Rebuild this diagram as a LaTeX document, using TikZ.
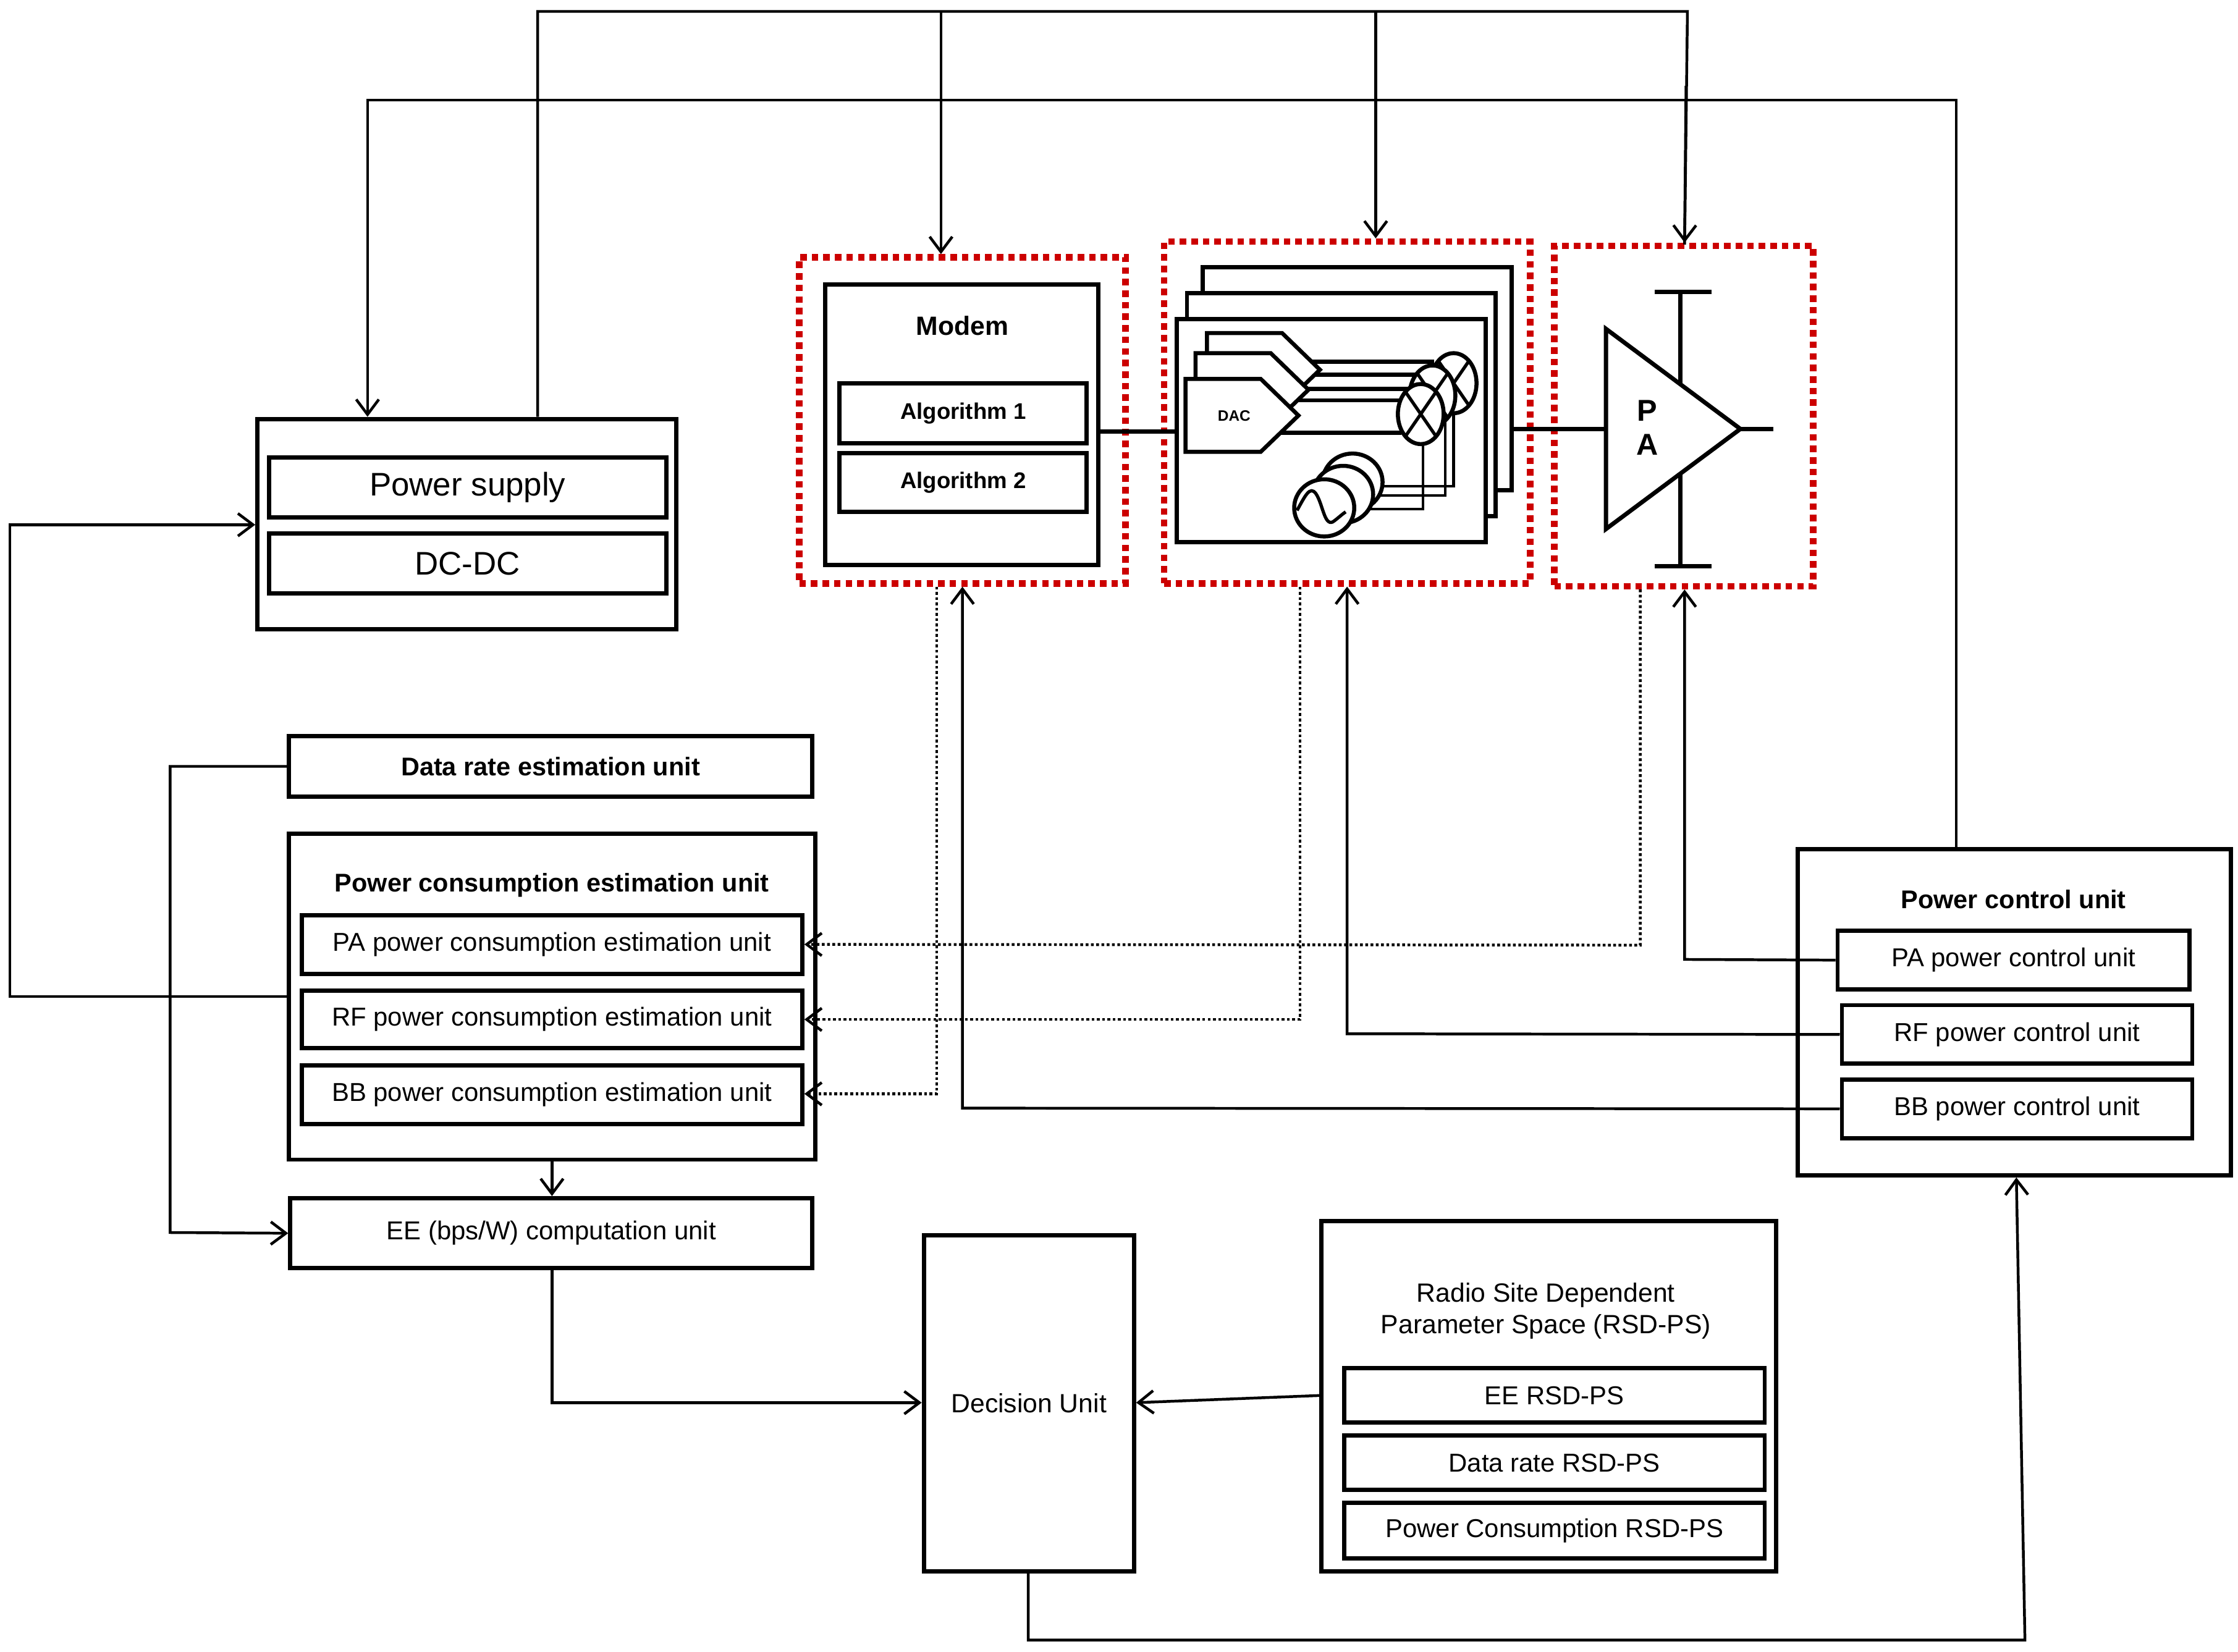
\documentclass[tikz,border=0pt]{standalone}
\usepackage{fontspec}
\setmainfont{Liberation Sans}
\usetikzlibrary{arrows.meta,calc}
\newcommand{\bx}[7]{\node[#6,minimum width={(#4-#2)*0.02cm},minimum height={(#5-#3)*0.02cm}] (#1) at ({(#2+#4)/2},{(#3+#5)/2}) {#7};}
\begin{document}
\begin{tikzpicture}[x=0.02cm,y=-0.02cm,
 box/.style={draw,line width=1.7pt,inner sep=0pt,font=\fontsize{10.3}{12}\selectfont},
 red/.style={draw=red!80!black,dotted,line width=2.6pt,inner sep=0pt},
 ttl/.style={font=\bfseries\fontsize{10.2}{12}\selectfont},
 con/.style={line width=1.1pt},
 arr/.style={con,-{Straight Barb[length=6pt,width=9pt,line width=1.1pt]}},
 dot/.style={arr,densely dotted}]
\useasboundingbox (0,0) rectangle (1565,1155);
% power supply
\bx{ps}{180}{293}{473}{440}{box}{}
\bx{psu}{188}{320}{466}{362}{box,font=\fontsize{13}{15}\selectfont}{Power supply}
\bx{dcdc}{188}{373}{466}{415}{box,font=\fontsize{13}{15}\selectfont}{DC-DC}
% modem
\bx{mr}{559}{180}{787}{408}{red}{}
\bx{modem}{577}{199}{768}{395}{box}{}
\node[font=\bfseries\fontsize{10.5}{12}\selectfont] at (673,228) {Modem};
\bx{alg1}{587}{268}{760}{310}{box,font=\bfseries\fontsize{9}{11}\selectfont}{Algorithm 1}
\bx{alg2}{587}{317}{760}{358}{box,font=\bfseries\fontsize{9}{11}\selectfont}{Algorithm 2}
% RF
\bx{rr}{814}{169}{1070}{408}{red}{}
\draw[line width=1.7pt,fill=white] (841,187) rectangle (1057,343);
\draw[line width=1.7pt,fill=white] (830,205) rectangle (1046,361);
\bx{rf}{823}{223}{1039}{379}{box,fill=white}{}
% DAC outputs
\draw[line width=1.6pt] (905,253) -- (1003,253) (905,262) -- (992,262)
  (900,272) -- (985,272) (895,280) -- (980,280) (895,302.6) -- (980,302.6);
\foreach \dx/\dy in {15/-32,7/-18}{
 \draw[line width=1.6pt,fill=white] (829+\dx,316+\dy) -- (829+\dx,265+\dy) -- (881.6+\dx,265+\dy) -- (908+\dx,290.6+\dy) -- (881.6+\dx,316+\dy);}
\draw[line width=1.6pt,fill=white] (829,265) -- (881.6,265) -- (908,290.6) -- (881.6,316) -- (829,316) -- cycle;
\node[font=\bfseries\fontsize{6}{7}\selectfont] at (863,291) {DAC};
% LO lines
\draw[line width=1.1pt] (995,300) -- (995,356) -- (945,356);
\draw[line width=1.1pt] (1010.7,290) -- (1010.7,346.5) -- (958,346.5);
\draw[line width=1.1pt] (1016.5,285) -- (1016.5,340) -- (966,340);
% mixers
\foreach \cx/\cy in {1016.5/268,1001.7/276.6,993.5/289.6}{
 \draw[line width=1.6pt,fill=white] (\cx,\cy) ellipse (16 and 21);
 \draw[line width=1.3pt] (\cx-11,\cy-16) -- (\cx+11,\cy+16) (\cx-11,\cy+16) -- (\cx+11,\cy-16);}
% oscillators
\foreach \cx/\cy in {945.8/337.2,939.2/345.8,926/355.2}{
 \draw[line width=1.6pt,fill=white] (\cx,\cy) ellipse (21 and 20);}
\draw[line width=1.3pt] (907,357) .. controls (913,346) and (916,340) .. (920,345) .. controls (925,352) and (926,368) .. (932,365) .. controls (935,363) and (938,360) .. (941,358);
% PA
\bx{pr}{1087}{172}{1268}{410}{red}{}
\draw[line width=1.7pt] (1175,204) -- (1175,396) (1157,204) -- (1197,204) (1157,396) -- (1197,396);
\draw[line width=1.7pt,fill=white] (1123,230) -- (1217,300) -- (1123,370) -- cycle;
\coordinate (pain) at (1123,300);
\coordinate (paout) at (1240,300);
\draw[line width=1.7pt] (1217,300) -- (paout);
\node[font=\bfseries\fontsize{12}{14}\selectfont] at (1152,287) {P};
\node[font=\bfseries\fontsize{12}{14}\selectfont] at (1152,311) {A};
\draw[line width=1.7pt] (modem.east |- 0,302) -- (rf.west |- 0,302);
\draw[line width=1.7pt] (1057,300) -- (pain);
% top lines
\draw[con] (ps.north -| 376,0) -- (376,8) -- (1180,8) -- (1178,171);
\draw[arr] (1179,60) -- (pr.north -| 1178,0);
\draw[arr] (658,8) -- (mr.north -| 658,0);
\draw[arr] (962,8) -- (rr.north -| 962,0);
\bx{pcu}{1257}{594}{1560}{822}{box}{}
\draw[arr] (pcu.north -| 1368,0) -- (1368,70) -- (257,70) -- (ps.north -| 257,0);
% estimation
\bx{dre}{202}{515}{568}{557}{box,ttl}{Data rate estimation unit}
\bx{pce}{202}{583}{570}{811}{box}{}
\node[ttl] at (386,619) {Power consumption estimation unit};
\bx{pae}{211}{640}{561}{681}{box}{PA power consumption estimation unit}
\bx{rfe}{211}{693}{561}{733}{box}{RF power consumption estimation unit}
\bx{bbe}{211}{745}{561}{786}{box}{BB power consumption estimation unit}
\bx{ee}{203}{838}{568}{887}{box}{EE (bps/W) computation unit}
\draw[arr] (pce.south -| 386,0) -- (ee.north -| 386,0);
\draw[arr] (dre.west) -- (119,536) -- (119,862) -- (ee.west);
\draw[arr] (pce.west) -- (7,697) -- (7,367) -- (ps.west |- 0,367);
\draw[dot] (mr.south -| 655,0) -- (655,765) -- (bbe.east |- 0,765);
\draw[dot] (rr.south -| 909,0) -- (909,713) -- (rfe.east);
\draw[dot] (pr.south -| 1147,0) -- (1147,661) -- (pae.east);
% power control
\node[ttl] at (1408,629) {Power control unit};
\bx{papc}{1285}{651}{1531}{692}{box}{PA power control unit}
\bx{rfpc}{1288}{703}{1533}{744}{box}{RF power control unit}
\bx{bbpc}{1288}{755}{1533}{796}{box}{BB power control unit}
\draw[arr] (papc.west) -- (1178,671) -- (pr.south -| 1178,0);
\draw[arr] (rfpc.west) -- (942,723) -- (rr.south -| 942,0);
\draw[arr] (bbpc.west) -- (673,775) -- (mr.south -| 673,0);
% decision
\bx{dec}{646}{864}{793}{1099}{box,font=\fontsize{10.5}{12}\selectfont}{Decision Unit}
\draw[arr] (ee.south -| 386,0) -- (386,981) -- (dec.west |- 0,981);
\bx{rsd}{924}{854}{1242}{1099}{box}{}
\node[align=center,font=\fontsize{10.5}{12.5}\selectfont] at (1081,917) {Radio Site Dependent\\Parameter Space (RSD-PS)};
\bx{eer}{940}{957}{1234}{995}{box}{EE RSD-PS}
\bx{drr}{940}{1004}{1234}{1042}{box}{Data rate RSD-PS}
\bx{pcr}{940}{1051}{1234}{1090}{box}{Power Consumption RSD-PS}
\draw[arr] (rsd.west |- 0,976) -- (dec.east |- 0,981);
\draw[arr] (dec.south -| 719,0) -- (719,1147) -- (1416,1147) -- (pcu.south -| 1410,0);
\end{tikzpicture}
\end{document}
